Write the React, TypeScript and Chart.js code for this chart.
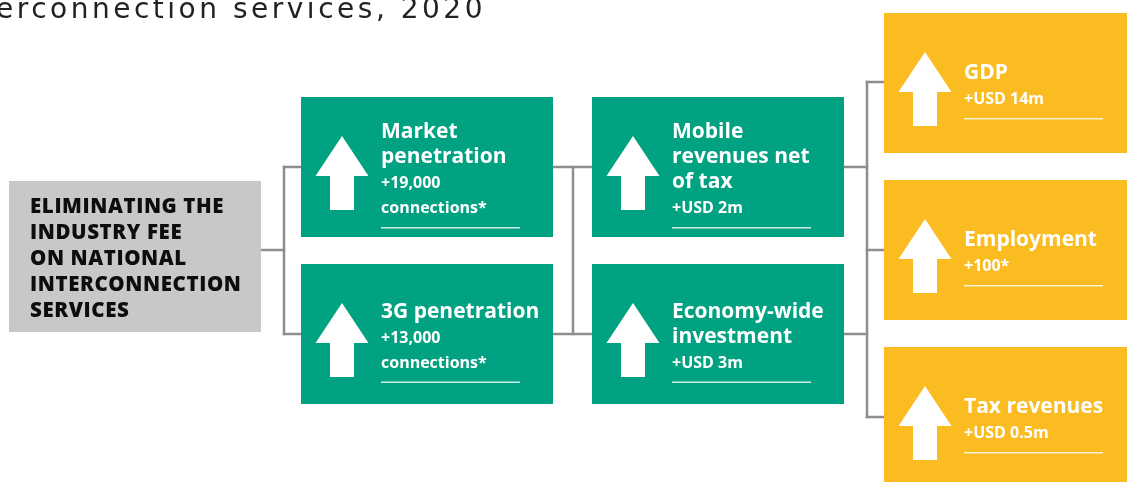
import React, { useEffect, useRef } from "react";
import { Chart, registerables } from "chart.js";

Chart.register(...registerables);

// ---------- content ----------
const titleText = "erconnection services, 2020";
const sourceLines = ["ELIMINATING THE", "INDUSTRY FEE", "ON NATIONAL", "INTERCONNECTION", "SERVICES"];

const stage1Titles = [["Market", "penetration"], ["3G penetration"]];
const stage1Values = [["+19,000", "connections*"], ["+13,000", "connections*"]];

const stage2Titles = [["Mobile", "revenues net", "of tax"], ["Economy-wide", "investment"]];
const stage2Values = [["+USD 2m"], ["+USD 3m"]];

const stage3Titles = [["GDP"], ["Employment"], ["Tax revenues"]];
const stage3Values = [["+USD 14m"], ["+100*"], ["+USD 0.5m"]];

// ---------- layout (chart value space == 1127 x 482) ----------
const W = 1127;
const H = 482;
const sourceBox = { x0: 9, x1: 261, y0: 181, y1: 332 };
const stage1X = [301, 553];
const stage2X = [592, 844];
const stage3X = [884, 1150];
const stage1Tops = [97, 264];
const stage2Tops = [97, 264];
const stage3Tops = [13, 180, 347];
const boxH = 140;

const GREEN = "#00a281";
const YELLOW = "#fbbc22";
const GREY_BOX = "#c8c8c8";
const LINK = "#8e8e8e";

// connector segments: [x0, y0, x1, y1]
const links: number[][] = [
  [261, 250, 284, 250],
  [284, 167, 284, 334],
  [284, 167, 301, 167],
  [284, 334, 301, 334],
  [553, 167, 592, 167],
  [553, 334, 592, 334],
  [573, 167, 573, 334],
  [844, 167, 867, 167],
  [844, 334, 867, 334],
  [867, 82, 867, 417],
  [867, 82, 884, 82],
  [867, 250, 884, 250],
  [867, 417, 884, 417],
];

type Node = { x0: number; x1: number; y0: number; y1: number; color: string; titles: string[]; values: string[] };

function buildNodes(): Node[] {
  const out: Node[] = [];
  stage1Tops.forEach((t, i) =>
    out.push({ x0: stage1X[0], x1: stage1X[1], y0: t, y1: t + boxH, color: GREEN, titles: stage1Titles[i], values: stage1Values[i] })
  );
  stage2Tops.forEach((t, i) =>
    out.push({ x0: stage2X[0], x1: stage2X[1], y0: t, y1: t + boxH, color: GREEN, titles: stage2Titles[i], values: stage2Values[i] })
  );
  stage3Tops.forEach((t, i) =>
    out.push({ x0: stage3X[0], x1: stage3X[1], y0: t, y1: t + boxH, color: YELLOW, titles: stage3Titles[i], values: stage3Values[i] })
  );
  return out;
}

const FONT = "'Open Sans', 'Liberation Sans', sans-serif";

const diagramPlugin = {
  id: "diagram",
  afterDraw(chart: any) {
    const ctx: CanvasRenderingContext2D = chart.ctx;
    const xs = chart.scales.x;
    const ys = chart.scales.y;
    const sx = (v: number) => xs.getPixelForValue(v);
    const sy = (v: number) => ys.getPixelForValue(v);
    ctx.save();

    // title (cut off at left edge)
    ctx.fillStyle = "#222222";
    ctx.font = `400 28px 'DejaVu Sans', ${FONT}`;
    ctx.textAlign = "left";
    ctx.textBaseline = "alphabetic";
    const target = 490;
    (ctx as any).letterSpacing = "0px";
    const m = ctx.measureText(titleText).width;
    const ls = (target - m) / titleText.length;
    (ctx as any).letterSpacing = `${ls}px`;
    ctx.fillText(titleText, sx(-4), sy(18));
    (ctx as any).letterSpacing = "0px";

    // connectors
    ctx.strokeStyle = LINK;
    ctx.lineWidth = 2.5;
    ctx.lineCap = "square";
    links.forEach(([a, b, c, d]) => {
      ctx.beginPath();
      ctx.moveTo(sx(a), sy(b));
      ctx.lineTo(sx(c), sy(d));
      ctx.stroke();
    });

    // source box
    ctx.fillStyle = GREY_BOX;
    ctx.fillRect(sx(sourceBox.x0), sy(sourceBox.y0), sx(sourceBox.x1) - sx(sourceBox.x0), sy(sourceBox.y1) - sy(sourceBox.y0));
    ctx.fillStyle = "#0d0d0d";
    ctx.font = `800 20.5px ${FONT}`;
    (ctx as any).letterSpacing = "0.6px";
    sourceLines.forEach((ln, i) => {
      ctx.fillText(ln, sx(sourceBox.x0 + 21), sy(213 + i * 26));
    });
    (ctx as any).letterSpacing = "0px";

    // effect boxes
    buildNodes().forEach((n) => {
      ctx.fillStyle = n.color;
      ctx.fillRect(sx(n.x0), sy(n.y0), sx(n.x1) - sx(n.x0), sy(n.y1) - sy(n.y0));
      // arrow
      const cx = n.x0 + 41;
      ctx.fillStyle = "#ffffff";
      ctx.beginPath();
      ctx.moveTo(sx(cx), sy(n.y0 + 39));
      ctx.lineTo(sx(cx + 26.5), sy(n.y0 + 79));
      ctx.lineTo(sx(cx + 12), sy(n.y0 + 79));
      ctx.lineTo(sx(cx + 12), sy(n.y0 + 113));
      ctx.lineTo(sx(cx - 12), sy(n.y0 + 113));
      ctx.lineTo(sx(cx - 12), sy(n.y0 + 79));
      ctx.lineTo(sx(cx - 26.5), sy(n.y0 + 79));
      ctx.closePath();
      ctx.fill();

      // text block
      const lines = [...n.titles.map((t) => ({ t, big: true })), ...n.values.map((t) => ({ t, big: false }))];
      const baselines: number[] = [];
      let b = 16;
      lines.forEach((l, i) => {
        if (i > 0) b += 25;
        baselines.push(b);
      });
      const ul = b + 14.5;
      const capTop = n.y0 + 78 - ul / 2;
      const tx = n.x0 + 80;
      lines.forEach((l, i) => {
        ctx.font = l.big ? `bold 21px ${FONT}` : `bold 16px ${FONT}`;
        ctx.fillText(l.t, sx(tx), sy(capTop + baselines[i]));
      });
      ctx.strokeStyle = "rgba(255,255,255,0.8)";
      ctx.lineWidth = 1.5;
      ctx.lineCap = "butt";
      ctx.beginPath();
      ctx.moveTo(sx(tx), sy(capTop + ul));
      ctx.lineTo(sx(tx + 139), sy(capTop + ul));
      ctx.stroke();
    });

    ctx.restore();
  },
};

export default function App() {
  const ref = useRef<HTMLCanvasElement | null>(null);
  useEffect(() => {
    if (!ref.current) return;
    const chart = new Chart(ref.current, {
      type: "scatter",
      data: { datasets: [{ data: [], pointRadius: 0 }] },
      options: {
        animation: false,
        responsive: false,
        devicePixelRatio: 1,
        layout: { padding: 0 },
        plugins: { legend: { display: false }, tooltip: { enabled: false } },
        scales: {
          x: { type: "linear", min: 0, max: W, display: false },
          y: { type: "linear", min: 0, max: H, reverse: true, display: false },
        },
      },
      plugins: [diagramPlugin],
    });
    return () => chart.destroy();
  }, []);
  return (
    <div style={{ position: "fixed", left: 0, top: 0, width: W, height: H, background: "#ffffff" }}>
      <canvas ref={ref} width={W} height={H} style={{ display: "block" }} />
    </div>
  );
}
